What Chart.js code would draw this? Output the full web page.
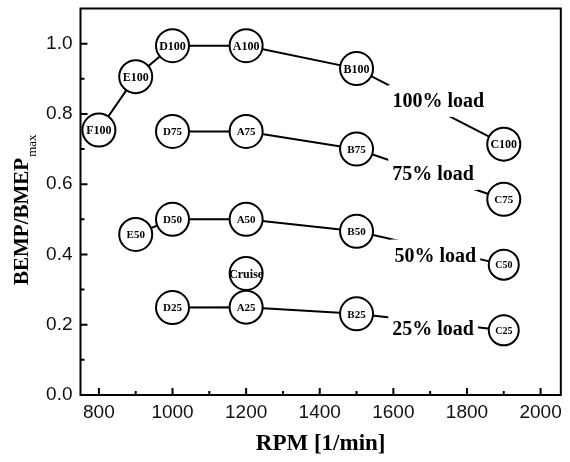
<!DOCTYPE html>
<html lang="en">
<head>
    <meta charset="UTF-8">
    <title>BMEP vs RPM</title>
    <script src="https://cdn.jsdelivr.net/npm/chart.js"></script>
    <style>
        body { margin: 0; background: #fff; }
    </style>
</head>
<body>
    <canvas id="bmepChart" width="570" height="462"></canvas>

    <script>
        // operating points
        const rpm100 = [800, 900, 1000, 1200, 1500, 1900];
        const load100 = [0.754, 0.906, 0.994, 0.994, 0.929, 0.714];
        const names100 = ['F100', 'E100', 'D100', 'A100', 'B100', 'C100'];

        const rpm75 = [1000, 1200, 1500, 1900];
        const load75 = [0.75, 0.75, 0.70, 0.557];
        const names75 = ['D75', 'A75', 'B75', 'C75'];

        const rpm50 = [900, 1000, 1200, 1500, 1900];
        const load50 = [0.457, 0.50, 0.50, 0.466, 0.371];
        const names50 = ['E50', 'D50', 'A50', 'B50', 'C50'];

        const rpm25 = [1000, 1200, 1500, 1900];
        const load25 = [0.249, 0.25, 0.231, 0.184];
        const names25 = ['D25', 'A25', 'B25', 'C25'];

        const rpmCruise = [1200];
        const loadCruise = [0.346];
        const namesCruise = ['Cruise'];

        // curve labels
        const loadLabels = ['100% load', '75% load', '50% load', '25% load'];
        const labelRpm = [1722, 1708, 1714, 1708];
        const labelLoad = [0.837, 0.629, 0.397, 0.187];

        // axis ticks
        const xTicks = [800, 1000, 1200, 1400, 1600, 1800, 2000];
        const xMinor = [900, 1100, 1300, 1500, 1700, 1900];
        const yTicks = [0, 0.2, 0.4, 0.6, 0.8, 1.0];
        const yMinor = [0.1, 0.3, 0.5, 0.7, 0.9];

        const toPts = (xs, ys) => xs.map((v, i) => ({ x: v, y: ys[i] }));

        const markerPts = [].concat(
            toPts(rpm100, load100), toPts(rpm75, load75), toPts(rpm50, load50),
            toPts(rpm25, load25), toPts(rpmCruise, loadCruise)
        );
        const markerNames = [].concat(names100, names75, names50, names25, namesCruise);
        // C50 / C25 are drawn a bit smaller in the original
        const small = n => n === 'C50' || n === 'C25';
        const markerFont = markerNames.map(n => small(n) ? 10 : (n.length > 3 ? 12 : 11));
        const markerRadius = markerNames.map(n => small(n) ? 15 : 16.5);

        const lineSet = (xs, ys) => ({
            data: toPts(xs, ys),
            showLine: true,
            borderColor: '#000',
            borderWidth: 2,
            pointRadius: 0,
            tension: 0
        });

        const annotate = {
            id: 'annotate',
            beforeDatasetDraw(chart, args) {
                if (args.index !== 0) return;
                const { ctx, scales: { x, y } } = chart;
                ctx.save();
                ctx.font = 'bold 20px "Liberation Serif"';
                ctx.textAlign = 'center';
                ctx.textBaseline = 'middle';
                loadLabels.forEach((t, i) => {
                    const px = x.getPixelForValue(labelRpm[i]);
                    const py = y.getPixelForValue(labelLoad[i]);
                    const w = ctx.measureText(t).width;
                    ctx.fillStyle = '#fff';
                    ctx.fillRect(px - w / 2 - 4, py - 16, w + 8, 32);
                    ctx.fillStyle = '#000';
                    ctx.fillText(t, px, py + 1);
                });
                ctx.restore();
            },
            afterDatasetsDraw(chart) {
                const { ctx, scales: { x, y } } = chart;
                ctx.save();
                ctx.fillStyle = '#000';
                ctx.textAlign = 'center';
                ctx.textBaseline = 'middle';
                markerPts.forEach((p, i) => {
                    ctx.font = 'bold ' + markerFont[i] + 'px "Liberation Serif"';
                    ctx.fillText(markerNames[i], x.getPixelForValue(p.x), y.getPixelForValue(p.y) + 1);
                });
                ctx.restore();
            },
            afterDraw(chart) {
                const { ctx, chartArea: a, scales: { x, y } } = chart;
                ctx.save();
                ctx.strokeStyle = '#000';
                ctx.lineWidth = 2;
                ctx.strokeRect(a.left, a.top, a.right - a.left, a.bottom - a.top);

                // inward ticks on bottom and left axes
                ctx.beginPath();
                xTicks.forEach(v => { const p = x.getPixelForValue(v); ctx.moveTo(p, a.bottom); ctx.lineTo(p, a.bottom - 7); });
                xMinor.forEach(v => { const p = x.getPixelForValue(v); ctx.moveTo(p, a.bottom); ctx.lineTo(p, a.bottom - 4); });
                yTicks.forEach(v => { const p = y.getPixelForValue(v); ctx.moveTo(a.left, p); ctx.lineTo(a.left + 7, p); });
                yMinor.forEach(v => { const p = y.getPixelForValue(v); ctx.moveTo(a.left, p); ctx.lineTo(a.left + 4, p); });
                ctx.stroke();

                // axis titles
                ctx.fillStyle = '#000';
                ctx.font = 'bold 23px "Liberation Serif"';
                ctx.textAlign = 'center';
                ctx.textBaseline = 'alphabetic';
                ctx.fillText('RPM [1/min]', (a.left + a.right) / 2, 450);

                ctx.translate(28, 285);
                ctx.rotate(-Math.PI / 2);
                ctx.textAlign = 'left';
                ctx.font = 'bold 21px "Liberation Serif"';
                const main = 'BEMP/BMEP';
                ctx.fillText(main, 0, 0);
                const w = ctx.measureText(main).width;
                ctx.font = '13px "Liberation Serif"';
                ctx.fillText('max', w + 1, 8);
                ctx.restore();
            }
        };

        const ctx = document.getElementById('bmepChart').getContext('2d');
        new Chart(ctx, {
            type: 'scatter',
            data: {
                datasets: [
                    {
                        data: markerPts,
                        pointRadius: markerRadius,
                        pointHoverRadius: markerRadius,
                        pointBackgroundColor: '#fff',
                        pointBorderColor: '#000',
                        pointBorderWidth: 2,
                        showLine: false,
                        clip: false
                    },
                    lineSet(rpm100, load100),
                    lineSet(rpm75, load75),
                    lineSet(rpm50, load50),
                    lineSet(rpm25, load25)
                ]
            },
            options: {
                responsive: false,
                animation: false,
                layout: { autoPadding: false, padding: { top: 0, right: 7, left: 0, bottom: 0 } },
                plugins: {
                    legend: { display: false },
                    tooltip: { enabled: false }
                },
                scales: {
                    x: {
                        type: 'linear',
                        min: 750,
                        max: 2055,
                        grid: { display: false, drawTicks: false },
                        border: { display: false },
                        afterBuildTicks: s => { s.ticks = xTicks.map(v => ({ value: v })); },
                        afterFit: s => { s.height = 67; },
                        ticks: {
                            padding: 8,
                            color: '#111',
                            font: { family: '"Liberation Sans", Arial', size: 19, lineHeight: 1 },
                            callback: v => String(v)
                        }
                    },
                    y: {
                        type: 'linear',
                        min: 0,
                        max: 1.1,
                        grid: { display: false, drawTicks: false },
                        border: { display: false },
                        afterBuildTicks: s => { s.ticks = yTicks.map(v => ({ value: v })); },
                        afterFit: s => { s.width = 80.5; s.paddingTop = 8.5; s.paddingBottom = 0; },
                        ticks: {
                            padding: 8,
                            color: '#111',
                            font: { family: '"Liberation Sans", Arial', size: 19, lineHeight: 1 },
                            callback: v => v.toFixed(1)
                        }
                    }
                }
            },
            plugins: [annotate]
        });
    </script>
</body>
</html>
